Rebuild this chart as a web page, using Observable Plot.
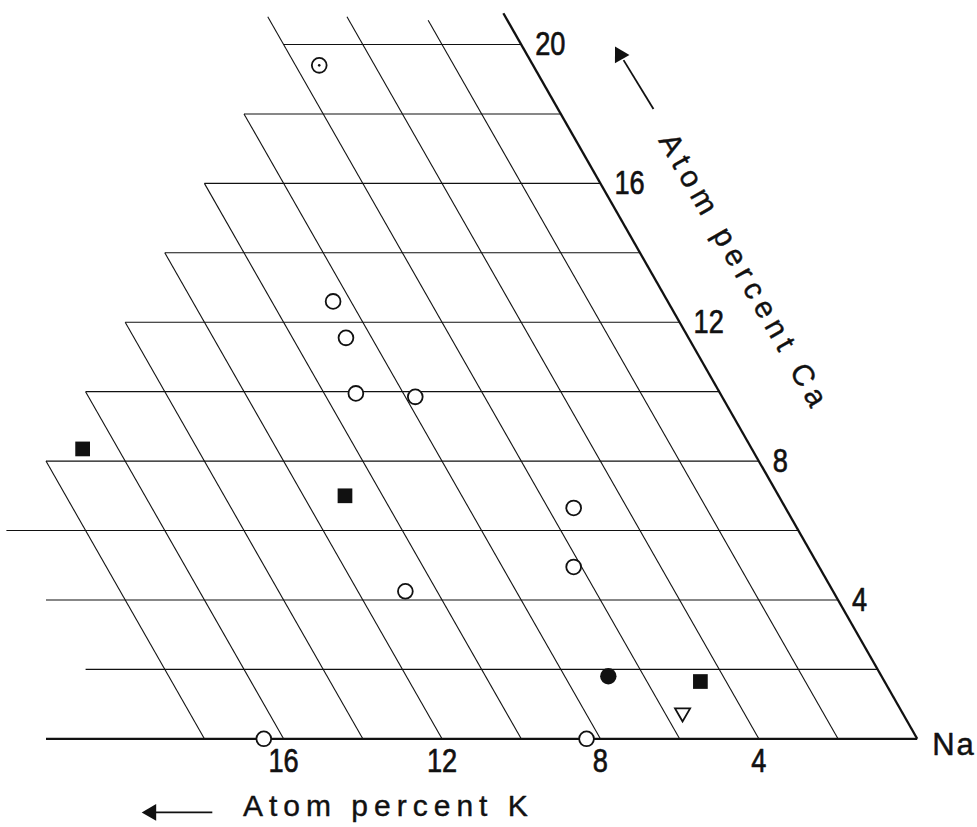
<!DOCTYPE html>
<html>
<head>
<meta charset="utf-8">
<script src="https://cdn.jsdelivr.net/npm/d3@7"></script>
<script src="https://cdn.jsdelivr.net/npm/@observablehq/plot@0.6"></script>
<style>
  html, body { margin: 0; padding: 0; background: #fff; }
  svg { display: block; }
</style>
</head>
<body>
<div id="chart"></div>
<script>
// ---- Data (atom percent K, atom percent Ca; Na = remainder) ----
const sampleK    = [5.4, 8.45, 8.65, 9.2, 7.75, 16.9, 10.95, 5.35, 6.2, 10.8, 6.9, 4.65, 5.55, 16.5, 8.35];
const sampleCa   = [19.4, 12.6, 11.55, 9.95, 9.85, 8.35, 7.0, 6.65, 4.95, 4.25, 1.8, 1.65, 0.75, 0, 0];
const sampleType = ["dotted circle", "open circle", "open circle", "open circle", "open circle",
                    "filled square", "filled square", "open circle", "open circle", "open circle",
                    "filled circle", "filled square", "open triangle", "open circle", "open circle"];

// grid: constant-Ca lines (start K on the left) and constant-K lines (top Ca)
const caLevels      = [0, 2, 4, 6, 8, 10, 12, 14, 16, 18, 20];
const caLineStartK  = [22, 20, 20, 20, 18, 16, 14, 12, 10, 8, 6];
const kLevels       = [0, 2, 4, 6, 8, 10, 12, 14, 16, 18];
const kLineTopCa    = [20.9, 20.7, 20.8, 20.8, 18, 16, 14, 12, 10, 8];

// tick labels
const caTickValues = [4, 8, 12, 16, 20];
const caTickLabels = ["4", "8", "12", "16", "20"];
const kTickValues  = [16, 12, 8, 4];
const kTickLabels  = ["16", "12", "8", "4"];

// ---- ternary projection: horizontal coordinate from Na corner ----
const u = (K, Ca) => K + Ca / 2;

const samples = sampleK.map((K, i) => ({K, Ca: sampleCa[i], type: sampleType[i]}));
const hSegs = caLevels.map((c, i) => ({K1: caLineStartK[i], Ca1: c, K2: 0, Ca2: c, edge: c === 0}));
const kSegs = kLevels.map((k, i) => ({K1: k, Ca1: 0, K2: k, Ca2: kLineTopCa[i], edge: k === 0}));
const segs = hSegs.concat(kSegs);

// annotation anchors (ternary coordinates)
const kTitle  = [{K: 18, Ca: -1.95, text: "Atom percent K"}];
const kArrow  = [{K1: 18.86, Ca1: -2.12, K2: 20.3, Ca2: -2.12}];
const kHead   = [{K: 20.4, Ca: -2.12}];
const caTitle = [{K: -2.35, Ca: 13.43, text: "Atom percent Ca"}];
const caArrow = [{K1: -2.41, Ca1: 18.14, K2: -2.36, Ca2: 19.55}];
const caHead  = [{K: -2.34, Ca: 19.7}];

const regular = "'Liberation Sans', Arial, Helvetica, sans-serif";

const link = (data, sw) => Plot.link(data, {
  x1: d => u(d.K1, d.Ca1), y1: "Ca1",
  x2: d => u(d.K2, d.Ca2), y2: "Ca2",
  stroke: "#111", strokeWidth: sw
});

const plot = Plot.plot({
  width: 977,
  height: 827,
  margin: 0,
  x: {type: "linear", domain: [0, 22], range: [916.7, 45.5], axis: null},
  y: {type: "linear", domain: [0, 20], range: [738.3, 44], axis: null},
  style: {fontFamily: regular, background: "white", color: "#111"},
  marks: [
    link(segs.filter(d => !d.edge), 1.1),
    link(segs.filter(d => d.edge), 2.3),

    // samples
    Plot.dot(samples.filter(d => d.type === "open circle" || d.type === "dotted circle"), {
      x: d => u(d.K, d.Ca), y: "Ca", r: 7.4, fill: "white", stroke: "#111", strokeWidth: 1.8
    }),
    Plot.dot(samples.filter(d => d.type === "dotted circle"), {
      x: d => u(d.K, d.Ca), y: "Ca", r: 1.3, fill: "#111"
    }),
    Plot.dot(samples.filter(d => d.type === "filled square"), {
      x: d => u(d.K, d.Ca), y: "Ca", symbol: "square", r: 8.3, fill: "#111"
    }),
    Plot.dot(samples.filter(d => d.type === "filled circle"), {
      x: d => u(d.K, d.Ca), y: "Ca", r: 8.2, fill: "#111"
    }),
    Plot.dot(samples.filter(d => d.type === "open triangle"), {
      x: d => u(d.K, d.Ca), y: "Ca", symbol: "triangle", r: 5.6, rotate: 180,
      fill: "white", stroke: "#111", strokeWidth: 1.8
    }),

    // Ca tick labels along the right edge
    Plot.text(caTickValues, {
      x: d => u(0, d), y: d => d, text: (d, i) => caTickLabels[i],
      textAnchor: "start", lineAnchor: "middle", dx: 14, fontSize: 34,
      fill: "#111", stroke: "#111", strokeWidth: 0.7
    }),
    // K tick labels under the bottom edge
    Plot.text(kTickValues, {
      x: d => u(d, 0), y: 0, text: (d, i) => kTickLabels[i],
      textAnchor: "middle", lineAnchor: "top", dy: 9, fontSize: 34,
      fill: "#111", stroke: "#111", strokeWidth: 0.7
    }),
    // Na corner
    Plot.text(["Na"], {
      x: u(0, 0), y: 0, text: d => d, textAnchor: "start", lineAnchor: "middle",
      dx: 15, dy: 6, fontSize: 31, fill: "#111", stroke: "#111", strokeWidth: 0.5
    }),

    // K axis title + arrow
    Plot.text(kTitle, {
      x: d => u(d.K, d.Ca), y: "Ca", text: "text", textAnchor: "start", lineAnchor: "middle",
      fontSize: 30, fill: "#111", stroke: "#111", strokeWidth: 0.4
    }),
    link(kArrow, 1.8),
    Plot.dot(kHead, {x: d => u(d.K, d.Ca), y: "Ca", symbol: "triangle", r: 6.2, rotate: -90, fill: "#111"}),

    // Ca axis title + arrow
    Plot.text(caTitle, {
      x: d => u(d.K, d.Ca), y: "Ca", text: "text", textAnchor: "middle", lineAnchor: "middle",
      rotate: 60.3, fontSize: 30, fill: "#111", stroke: "#111", strokeWidth: 0.4
    }),
    link(caArrow, 1.8),
    Plot.dot(caHead, {x: d => u(d.K, d.Ca), y: "Ca", symbol: "triangle", r: 6.2, rotate: -29.7, fill: "#111"})
  ]
});

// narrow, condensed-looking numerals as in the original figure
d3.select(plot).selectAll("text")
  .filter(function() { return /^\d+$/.test(this.textContent.trim()); })
  .each(function() {
    const t = d3.select(this);
    t.attr("transform", (t.attr("transform") || "") + " scale(0.8,1)");
  });
d3.select(plot).selectAll("text")
  .filter(function() { return /Atom percent/.test(this.textContent); })
  .style("letter-spacing", "6px");
d3.select(plot).selectAll("text")
  .filter(function() { return this.textContent.trim() === "Na"; })
  .style("letter-spacing", "2px");

document.getElementById("chart").appendChild(plot);
</script>
</body>
</html>
